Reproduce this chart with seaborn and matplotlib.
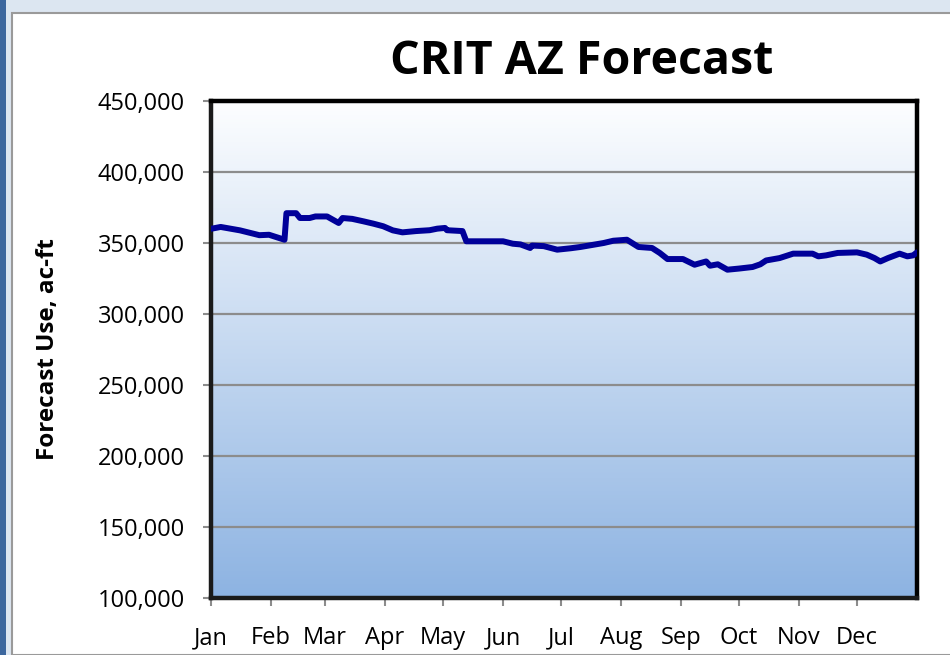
import numpy as np
import pandas as pd
import matplotlib
matplotlib.use("Agg")
import matplotlib.pyplot as plt
from matplotlib.colors import LinearSegmentedColormap
from matplotlib.patches import Rectangle
from matplotlib.ticker import FuncFormatter
import seaborn as sns

# Data (day of year, forecast use in ac-ft)
days = [0, 5, 15, 25, 30, 38, 39, 44, 46, 51, 54, 60, 66, 68, 73, 79, 84, 89,
        94, 99, 106, 113, 117, 121, 122, 130, 132, 137, 151, 156, 160, 165, 166,
        172, 179, 186, 191, 203, 208, 215, 221, 228, 232, 236, 244, 250, 256,
        258, 262, 267, 273, 280, 284, 287, 294, 301, 311, 314, 318, 324, 334,
        339, 343, 346, 350, 356, 360, 363, 365]
use = [360000, 361300, 358900, 355500, 355800, 352300, 371000, 371000, 367600,
       367600, 368700, 368700, 364100, 367600, 367000, 365200, 363600, 361800,
       358900, 357500, 358400, 359000, 360100, 360600, 359000, 358400, 351200,
       351200, 351200, 349500, 349000, 346500, 348200, 347800, 345300, 346300,
       347200, 350000, 351600, 352300, 347200, 346500, 343000, 338700, 338700,
       334700, 337000, 334000, 335000, 331200, 332000, 333100, 335000, 337700,
       339400, 342500, 342500, 340600, 341300, 343000, 343400, 341800, 339400,
       337000, 339400, 342500, 340600, 341300, 343400]

month_starts = [0, 31, 59, 90, 120, 151, 181, 212, 243, 273, 304, 334]
month_labels = ["Jan", "Feb", "Mar", "Apr", "May", "Jun", "Jul", "Aug", "Sep",
                "Oct", "Nov", "Dec"]
y_ticks = [100000, 150000, 200000, 250000, 300000, 350000, 400000, 450000]

df = pd.DataFrame({"day": days, "use": use})

sns.set_style("white")
plt.rcParams["font.family"] = ["Open Sans", "DejaVu Sans"]
plt.rcParams["text.color"] = "black"

fig = plt.figure(figsize=(9.5, 6.55), dpi=100)
fig.patch.set_facecolor("#dce6f1")

# white chart panel with thin grey border and dark blue strip on the left
fig.patches.append(Rectangle((12 / 950, 0), 1, 1 - 13 / 655, transform=fig.transFigure,
                             facecolor="white", edgecolor="#9a9a9a", linewidth=1.5, zorder=-2))
fig.patches.append(Rectangle((0, 0), 6 / 950, 1, transform=fig.transFigure,
                             facecolor="#3c679e", edgecolor="none", zorder=-2))

ax = fig.add_axes([211 / 950, 57 / 655, 706 / 950, 497 / 655])

# gradient fill of plot area
grad_cmap = LinearSegmentedColormap.from_list("bg", ["#fdfeff", "#8db3e2"])
ax.imshow(np.linspace(0, 1, 256).reshape(-1, 1), cmap=grad_cmap, aspect="auto",
          extent=[0, 365, 100000, 450000], zorder=0)

for yv in y_ticks[1:-1]:
    ax.axhline(yv, color="#8c8c8c", linewidth=1.6, zorder=1)

sns.lineplot(data=df, x="day", y="use", ax=ax, color="#000099", linewidth=4.3,
             zorder=3, solid_joinstyle="round", solid_capstyle="round")

ax.set_xlim(0, 365)
ax.set_ylim(100000, 450000)
ax.set_xticks(month_starts)
ax.set_xticklabels(month_labels)
ax.set_yticks(y_ticks)
ax.yaxis.set_major_formatter(FuncFormatter(lambda v, p: f"{int(v):,}"))

ax.tick_params(axis="both", which="major", direction="out", length=5.5, width=1.5,
               color="#8c8c8c", labelsize=17, labelcolor="black", pad=13.5)
ax.tick_params(axis="x", length=5.5, pad=15)
ax.tick_params(left=True, bottom=True)

for side in ["top", "right"]:
    ax.spines[side].set_color("black")
    ax.spines[side].set_linewidth(3.2)
for side in ["left", "bottom"]:
    ax.spines[side].set_color("#1a1a1a")
    ax.spines[side].set_linewidth(3.2)

ax.set_xlabel("")
ax.set_ylabel("Forecast Use, ac-ft", fontsize=17.5, fontweight="bold", color="black")
ax.yaxis.set_label_coords(-(211 - 48) / 706, 0.5)
ax.yaxis.label.set_va("center")

fig.text(582 / 950, 1 - 62 / 655, "CRIT AZ Forecast", ha="center", va="center",
         fontsize=33.5, fontweight="bold", color="black")

fig.savefig("out.png", dpi=100, facecolor=fig.get_facecolor())
